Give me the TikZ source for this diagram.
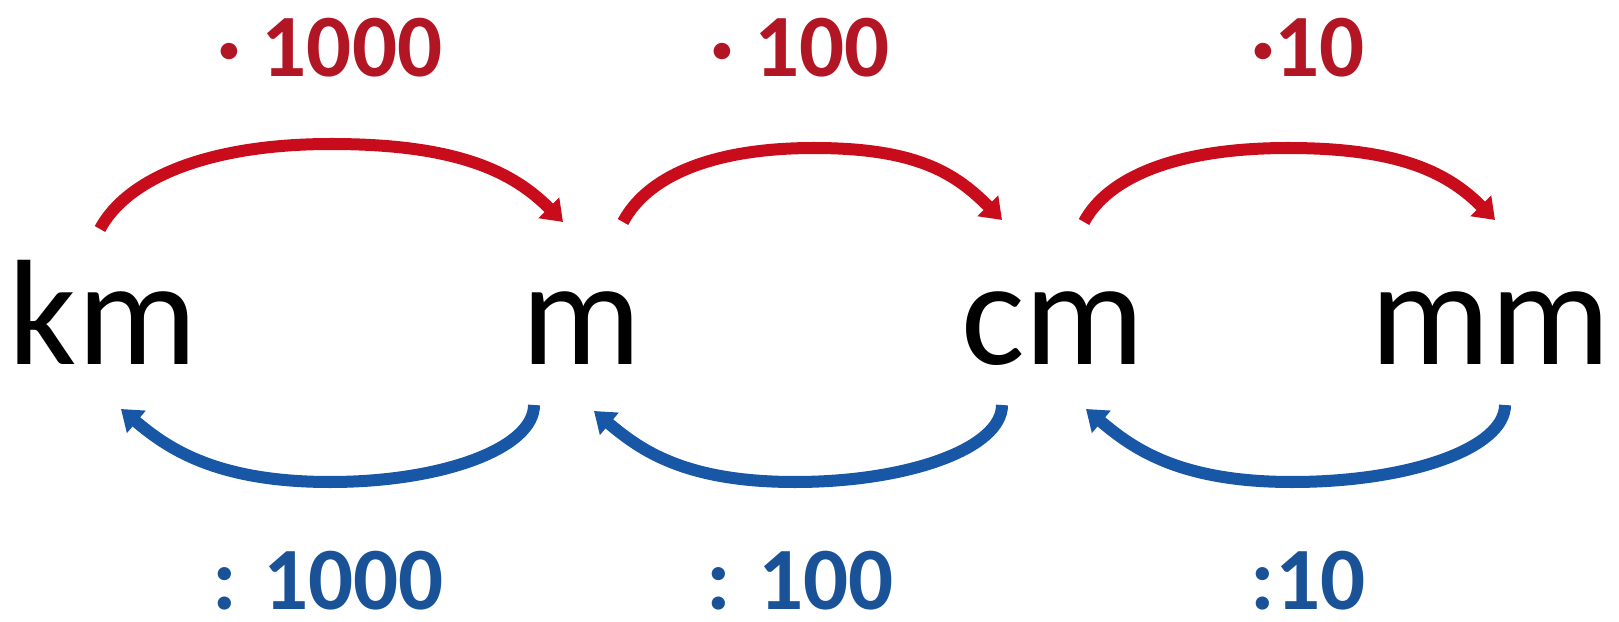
\documentclass[tikz,border=0pt]{standalone}
\usepackage{fontspec}
\setmainfont{Carlito}
\usetikzlibrary{arrows.meta}
\definecolor{arrred}{RGB}{200,12,28}
\definecolor{labred}{RGB}{178,22,36}
\definecolor{arrblue}{RGB}{24,86,166}
\definecolor{labblue}{RGB}{26,82,152}
\tikzset{
  unit/.style={anchor=base, inner sep=0pt, font=\fontsize{42.7}{50}\selectfont},
  mullab/.style={anchor=base, inner sep=0pt, text=labred, font=\fontsize{25.3}{30}\selectfont\bfseries},
  divlab/.style={anchor=base, inner sep=0pt, text=labblue, font=\fontsize{25.3}{30}\selectfont\bfseries},
  redarr/.style={draw=arrred, line width=0.12cm, -{Triangle[width=0.28cm,length=0.2cm]}},
  bluearr/.style={draw=arrblue, line width=0.12cm, -{Triangle[width=0.28cm,length=0.2cm]}}
}
\begin{document}
\begin{tikzpicture}[x=0.01cm,y=0.01cm]
\useasboundingbox (0,0) rectangle (1619,621);
% units
\node[unit] (km) at (103,257) {km};
\node[unit] (m)  at (581,257) {m};
\node[unit] (cm) at (1053,257) {cm};
\node[unit] (mm) at (1490,257) {mm};
% labels
\node[mullab] (t1) at (330,544) {· 1000};
\node[mullab] (t2) at (800,544) {· 100};
\node[mullab] (t3) at (1308,544) {·10};
\node[divlab] (b1) at (328,12) {: 1000};
\node[divlab] (b2) at (800,12) {: 100};
\node[divlab] (b3) at (1308,12) {:10};
% arrow end points
\coordinate (r1s) at (100,392);  \coordinate (r1e) at (563,399);
\coordinate (r2s) at (623,399);  \coordinate (r2e) at (1002,401);
\coordinate (r3s) at (1084,399); \coordinate (r3e) at (1495,401);
\coordinate (b1s) at (534,216);  \coordinate (b1e) at (121,212);
\coordinate (b2s) at (1002,216); \coordinate (b2e) at (594,210);
\coordinate (b3s) at (1505,216); \coordinate (b3e) at (1086,212);
% red arrows
\draw[redarr] (r1s) .. controls +(62:55) and +(-127,0) .. (331,477)
                    .. controls +(128,0) and +(135:70) .. (r1e);
\draw[redarr] (r2s) .. controls +(62:50) and +(-105,0) .. (814,473)
                    .. controls +(104,0) and +(135:65) .. (r2e);
\draw[redarr] (r3s) .. controls +(62:50) and +(-113,0) .. (1288,473)
                    .. controls +(114,0) and +(135:65) .. (r3e);
% blue arrows
\draw[bluearr] (b1s) .. controls +(-90:43) and +(113,0) .. (330,139)
                     .. controls +(-115,0) and +(-40:60) .. (b1e);
\draw[bluearr] (b2s) .. controls +(-90:43) and +(114,0) .. (795,139)
                     .. controls +(-111,0) and +(-40:60) .. (b2e);
\draw[bluearr] (b3s) .. controls +(-90:43) and +(118,0) .. (1292,139)
                     .. controls +(-114,0) and +(-40:60) .. (b3e);
\end{tikzpicture}
\end{document}
